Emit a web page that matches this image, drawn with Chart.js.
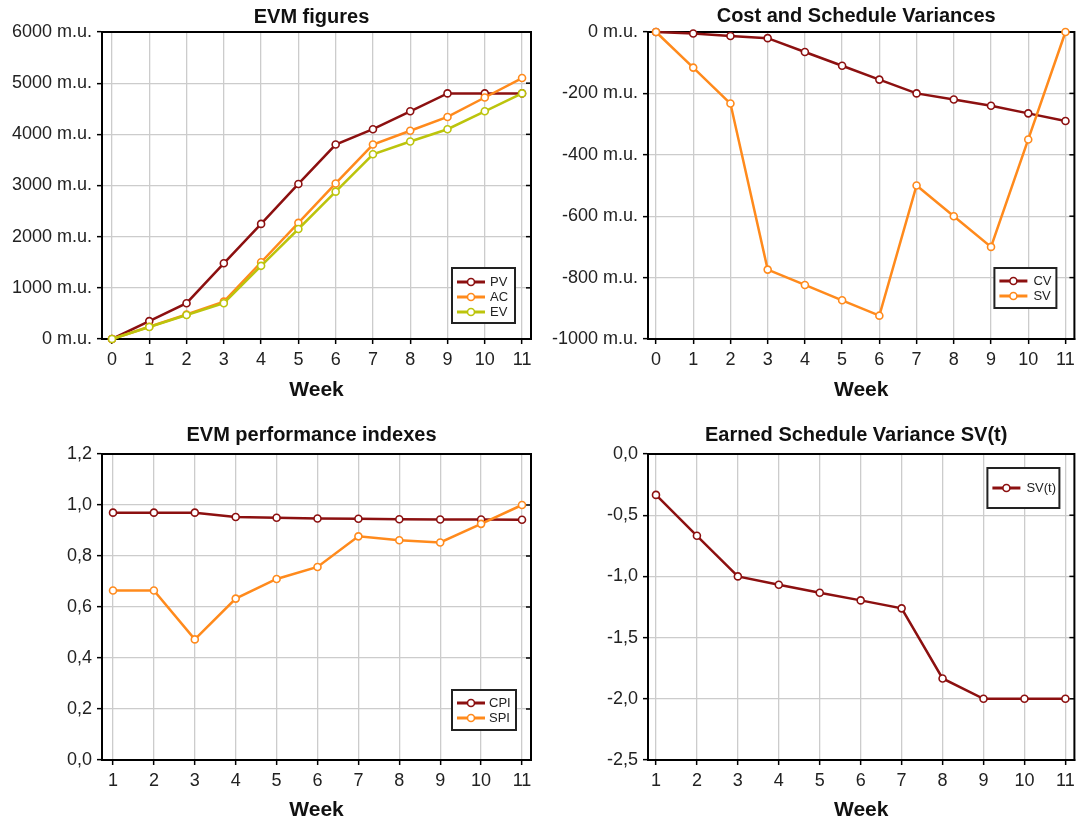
<!DOCTYPE html>
<html><head><meta charset="utf-8">
<script src="https://cdn.jsdelivr.net/npm/chart.js@4.4.1/dist/chart.umd.min.js"></script>
<style>
html,body{margin:0;padding:0;background:#fff;}
body{width:1080px;height:824px;position:relative;overflow:hidden;}
canvas{position:absolute;display:block;}
</style></head><body>
<canvas id="c1" width="540" height="403" style="left:0;top:0"></canvas>
<canvas id="c2" width="540" height="403" style="left:540px;top:0"></canvas>
<canvas id="c3" width="540" height="412" style="left:0;top:412px"></canvas>
<canvas id="c4" width="540" height="412" style="left:540px;top:412px"></canvas>
<script>
// ---- data ----
const weeksA = [0, 1, 2, 3, 4, 5, 6, 7, 8, 9, 10, 11];
const weeksB = [1, 2, 3, 4, 5, 6, 7, 8, 9, 10, 11];
const pv = [0, 350, 700, 1480, 2250, 3030, 3800, 4100, 4450, 4800, 4800, 4800];
const ac = [0, 240, 480, 730, 1500, 2270, 3040, 3800, 4070, 4340, 4720, 5100];
const ev = [0, 235, 470, 700, 1430, 2150, 2880, 3610, 3860, 4100, 4450, 4800];
const cv = [0, -5, -13, -20, -65, -110, -155, -200, -220, -240, -265, -290];
const sv = [0, -116, -233, -774, -824, -874, -924, -500, -600, -700, -350, 0];
const cpi = [0.970, 0.970, 0.970, 0.953, 0.950, 0.947, 0.946, 0.944, 0.943, 0.943, 0.942];
const spi = [0.665, 0.665, 0.473, 0.633, 0.710, 0.757, 0.877, 0.862, 0.853, 0.926, 1.0];
const svt = [-0.334, -0.668, -1.0, -1.068, -1.133, -1.196, -1.261, -1.834, -2.0, -2.0, -2.0];
const evmTicks = [0, 1000, 2000, 3000, 4000, 5000, 6000];
const varTicks = [-1000, -800, -600, -400, -200, 0];
const idxTicks = [0, 0.2, 0.4, 0.6, 0.8, 1.0, 1.2];
const esTicks = [-2.5, -2.0, -1.5, -1.0, -0.5, 0];
const titles = ['EVM figures', 'Cost and Schedule Variances', 'EVM performance indexes', 'Earned Schedule Variance SV(t)'];
const xTitle = 'Week';
const unit = ' m.u.';

// ---- style ----
const FONT = "'Liberation Sans', Arial, Helvetica, sans-serif";
const DARK = '#8c1010';
const ORANGE = '#ff8a1c';
const OLIVE = '#bcc40c';
const GRID = '#cccccc';

const fmtMU = v => Math.round(v) + unit;
const fmtComma = v => Number(v).toFixed(1).replace('.', ',');

function makeChart(id, o) {
  const ctx = document.getElementById(id).getContext('2d');
  const decor = {
    id: 'decor' + id,
    beforeDatasetsDraw(chart) {
      const c = chart.ctx, a = chart.chartArea;
      c.save();
      // inner tick marks on right border
      c.strokeStyle = '#000'; c.lineWidth = 1.5;
      const ys = chart.scales.y;
      o.yTicks.forEach(v => {
        const py = ys.getPixelForValue(v);
        c.beginPath(); c.moveTo(a.right - 5, py); c.lineTo(a.right, py); c.stroke();
      });
      c.lineWidth = 2; c.strokeStyle = '#000';
      c.strokeRect(a.left, a.top, a.right - a.left, a.bottom - a.top);
      c.restore();
    },
    afterDatasetsDraw(chart) {
      const c = chart.ctx, a = chart.chartArea, L = o.legend;
      c.save();
      // title
      c.font = "bold 20px " + FONT; c.fillStyle = '#111';
      c.textAlign = 'center'; c.textBaseline = 'middle';
      c.fillText(o.title, (a.left + a.right) / 2 - 5, o.titleY);
      // legend
      const bx = a.right - L.right - L.w;
      const by = L.top != null ? a.top + L.top : a.bottom - L.bottom - L.h;
      c.fillStyle = '#fff'; c.fillRect(bx, by, L.w, L.h);
      c.strokeStyle = '#222'; c.lineWidth = 2; c.strokeRect(bx, by, L.w, L.h);
      c.font = "13px " + FONT; c.textAlign = 'left';
      o.series.forEach((s, i) => {
        const yy = by + L.first + i * L.step;
        c.strokeStyle = s.color; c.lineWidth = 3;
        c.beginPath(); c.moveTo(bx + 5, yy); c.lineTo(bx + 33, yy); c.stroke();
        c.beginPath(); c.arc(bx + 19, yy, 3.5, 0, Math.PI * 2);
        c.fillStyle = '#fff'; c.fill(); c.lineWidth = 1.6; c.stroke();
        c.fillStyle = '#222'; c.fillText(s.label, bx + L.textX, yy + 0.5);
      });
      c.restore();
    }
  };
  return new Chart(ctx, {
    type: 'line',
    data: {
      datasets: o.series.map(s => ({
        label: s.label,
        data: o.weeks.map((w, i) => ({ x: w, y: s.data[i] })),
        borderColor: s.color,
        borderWidth: 2.5,
        pointRadius: 3.5,
        pointBorderWidth: 1.6,
        pointBackgroundColor: '#fff',
        pointBorderColor: s.color,
        tension: 0,
        clip: false,
        order: s.order
      }))
    },
    options: {
      responsive: false,
      animation: false,
      devicePixelRatio: 1,
      layout: { padding: o.padding },
      plugins: { legend: { display: false }, tooltip: { enabled: false }, title: { display: false } },
      scales: {
        x: {
          type: 'linear', min: o.xMin, max: o.xMax,
          afterBuildTicks: s => { s.ticks = o.weeks.map(v => ({ value: v })); },
          ticks: { font: { family: FONT, size: 18 }, color: '#222', padding: 5, maxRotation: 0, autoSkip: false, callback: v => String(v) },
          grid: { color: GRID, lineWidth: 1.3, tickColor: '#000', tickLength: 5, tickWidth: 1.5 },
          border: { color: '#000', width: 2 },
          title: { display: true, text: xTitle, font: { family: FONT, size: 21, weight: 'bold' }, color: '#111', padding: 0 },
          afterFit: s => { s.height = o.xH; }
        },
        y: {
          type: 'linear', min: o.yTicks[0], max: o.yTicks[o.yTicks.length - 1],
          afterBuildTicks: s => { s.ticks = o.yTicks.map(v => ({ value: v })); },
          ticks: { font: { family: FONT, size: 18 }, color: '#222', padding: 5, autoSkip: false, callback: o.fmt },
          grid: { color: GRID, lineWidth: 1.3, tickColor: '#000', tickLength: 5, tickWidth: 1.5 },
          border: { color: '#000', width: 2 },
          afterFit: s => { s.width = o.yW; }
        }
      }
    },
    plugins: [decor]
  });
}

makeChart('c1', {
  title: titles[0], titleY: 17, weeks: weeksA, xMin: -0.268, xMax: 11.24,
  yTicks: evmTicks, fmt: fmtMU, yW: 102, xH: 64,
  padding: { top: 32, right: 9, left: 0, bottom: 0 },
  series: [
    { label: 'PV', data: pv, color: DARK, order: 3 },
    { label: 'AC', data: ac, color: ORANGE, order: 2 },
    { label: 'EV', data: ev, color: OLIVE, order: 1 }
  ],
  legend: { w: 63, h: 55, right: 16, bottom: 16, first: 14, step: 15, textX: 38 }
});
makeChart('c2', {
  title: titles[1], titleY: 16, weeks: weeksA, xMin: -0.215, xMax: 11.24,
  yTicks: varTicks, fmt: fmtMU, yW: 108, xH: 64,
  padding: { top: 32, right: 5, left: 0, bottom: 0 },
  series: [
    { label: 'CV', data: cv, color: DARK, order: 2 },
    { label: 'SV', data: sv, color: ORANGE, order: 1 }
  ],
  legend: { w: 62, h: 40, right: 18, bottom: 31, first: 13, step: 15, textX: 39 }
});
makeChart('c3', {
  title: titles[2], titleY: 23, weeks: weeksB, xMin: 0.731, xMax: 11.22,
  yTicks: idxTicks, fmt: fmtComma, yW: 102, xH: 63,
  padding: { top: 42, right: 9, left: 0, bottom: 1 },
  series: [
    { label: 'CPI', data: cpi, color: DARK, order: 2 },
    { label: 'SPI', data: spi, color: ORANGE, order: 1 }
  ],
  legend: { w: 64, h: 40, right: 15, bottom: 30, first: 13, step: 15, textX: 37 }
});
makeChart('c4', {
  title: titles[3], titleY: 23, weeks: weeksB, xMin: 0.805, xMax: 11.22,
  yTicks: esTicks, fmt: fmtComma, yW: 108, xH: 63,
  padding: { top: 42, right: 5, left: 0, bottom: 1 },
  series: [
    { label: 'SV(t)', data: svt, color: DARK, order: 1 }
  ],
  legend: { w: 72, h: 40, right: 15, top: 14, first: 20, step: 15, textX: 39 }
});
</script>
</body></html>
